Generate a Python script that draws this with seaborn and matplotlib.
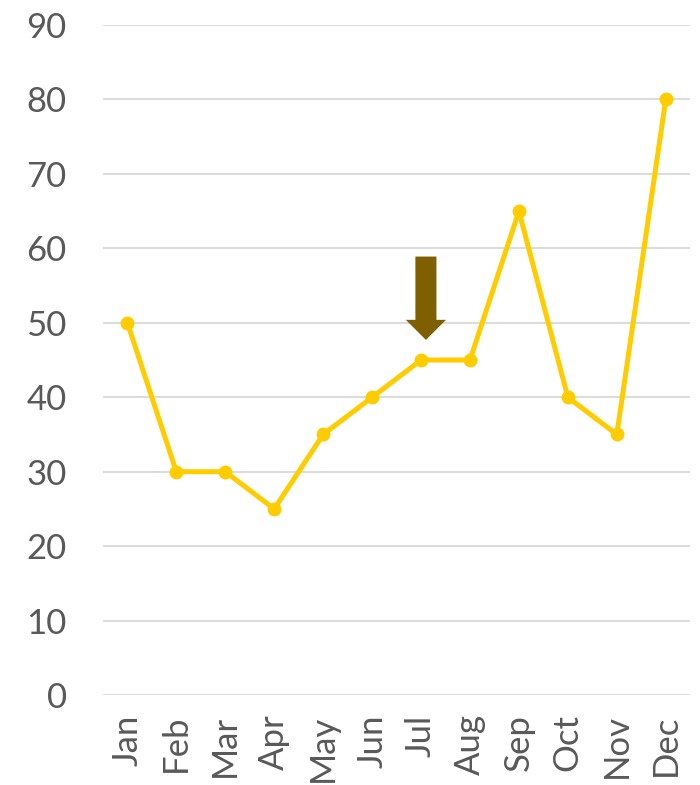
from matplotlib import pyplot as plt
import pandas as pd
import seaborn as sns

months = ["Jan", "Feb", "Mar", "Apr", "May", "Jun", "Jul", "Aug", "Sep", "Oct", "Nov", "Dec"]
values = [50, 30, 30, 25, 35, 40, 45, 45, 65, 40, 35, 80]
y_ticks = [0, 10, 20, 30, 40, 50, 60, 70, 80, 90]

df = pd.DataFrame({"Month": months, "Value": values})

sns.set_style("white")
plt.rcParams["font.family"] = ["Lato", "DejaVu Sans"]

fig = plt.figure(figsize=(7, 7.85), dpi=100)
ax = fig.add_axes([0.147, 0.1146, 0.839, 0.8535])

sns.lineplot(data=df, x="Month", y="Value", ax=ax, sort=False, color="#FFCC00",
             linewidth=3.6, marker="o", markersize=10, markeredgewidth=0)

# arrow above Jul
ax.arrow(6.1, 58.9, 0, -11.2, width=0.43, head_width=0.82, head_length=2.7,
         length_includes_head=True, color="#7F6000", linewidth=0, zorder=5)

ax.set_ylim(0, 90)
ax.set_xlim(-0.5, 11.5)
ax.set_yticks(y_ticks)
ax.set_xticks(range(len(months)))
ax.set_xticklabels(months, rotation=90)
ax.yaxis.grid(True, color="#D9D9D9", linewidth=1.3)
ax.set_axisbelow(True)
ax.tick_params(axis="both", colors="#595959", length=0)
ax.tick_params(axis="y", labelsize=25, pad=26)
ax.tick_params(axis="x", labelsize=25, pad=14)
ax.set_xlabel("")
ax.set_ylabel("")
for s in ax.spines.values():
    s.set_visible(False)

fig.savefig("out.png", dpi=100)
